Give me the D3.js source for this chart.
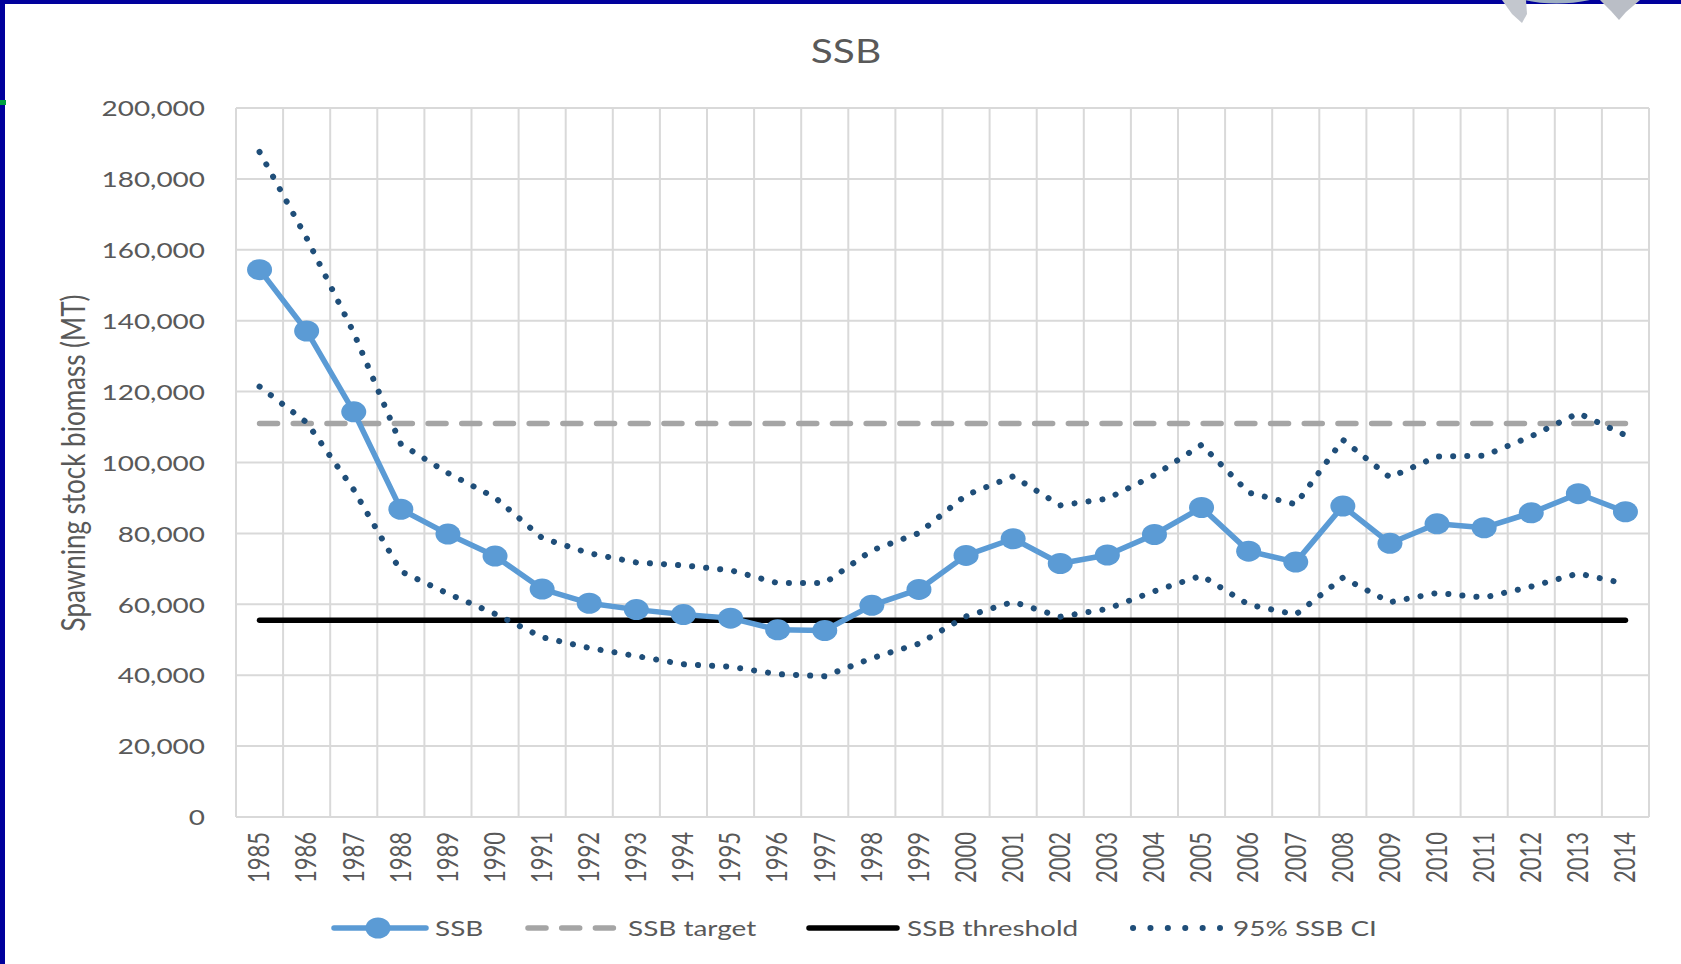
<!DOCTYPE html>
<html>
<head>
<meta charset="utf-8">
<script src="https://cdn.jsdelivr.net/npm/d3@7"></script>
<style>
  body { margin: 0; background: #fff; }
  svg text { font-family: Lato, "Open Sans", sans-serif; fill: #595959; }
</style>
</head>
<body>
<svg id="chart" width="1681" height="964"></svg>
<script>
// values (metric tons)
var years = ["1985","1986","1987","1988","1989","1990","1991","1992","1993","1994",
             "1995","1996","1997","1998","1999","2000","2001","2002","2003","2004",
             "2005","2006","2007","2008","2009","2010","2011","2012","2013","2014"]
var ssb = [154400,137100,114300,86800,79800,73600,64300,60300,58500,57100,
           56100,52800,52600,59700,64200,73800,78500,71500,73900,79700,
           87300,75000,71900,87700,77200,82700,81600,85800,91200,86100]
var ciUpper = [187600,163300,136600,105200,97000,90100,78700,74400,71800,71000,
               69600,66000,66000,75200,80100,90800,96100,87900,89800,96400,
               105000,91500,88200,106400,95800,101700,101900,107400,113900,107700]
var ciLower = [121400,111300,92300,69300,63000,57300,50700,47700,45400,43100,
               42400,40300,39700,44800,48900,56600,60700,56500,58700,63700,
               68100,59900,57100,67500,60600,63200,61900,65000,68700,65800]
var ssbTarget = 111000
var ssbThreshold = 55500
var yTicks = [0,20000,40000,60000,80000,100000,120000,140000,160000,180000,200000]
var legendLabels = ["SSB","SSB target","SSB threshold","95% SSB CI"]

var svg = d3.select("#chart")

// slide frame (blue band + bits of the logo)
svg.append("rect").attr("x",0).attr("y",0).attr("width",1681).attr("height",4).attr("fill","#00009c")
svg.append("rect").attr("x",0).attr("y",0).attr("width",5).attr("height",964).attr("fill","#00009c")
svg.append("rect").attr("x",0).attr("y",100).attr("width",6).attr("height",5).attr("fill","#00a040")
svg.append("path").attr("d","M1502,0 L1526,0 L1527,14 L1522,23 L1512,14 Z").attr("fill","#c3c7ce")
svg.append("path").attr("d","M1524,0 Q1556,7 1590,0 Z").attr("fill","#9fb0c2")
svg.append("path").attr("d","M1600,0 L1640,0 L1626,12 L1619,20 L1611,11 Z").attr("fill","#babec6")

var margin = { top: 108, right: 32, bottom: 147, left: 236 },
    width = 1681 - margin.left - margin.right,
    height = 964 - margin.top - margin.bottom
var sx = 1.27   // text in the source picture is stretched sideways

var x = d3.scaleBand().domain(years).range([0, width])
var y = d3.scaleLinear().domain([0, 200000]).range([height, 0])
function cx(d) { return x(d) + x.bandwidth() / 2 }

var g = svg.append("g").attr("transform", "translate(" + margin.left + "," + margin.top + ")")

// grid
g.append("g").selectAll("line").data(yTicks).join("line")
  .attr("x1", 0).attr("x2", width)
  .attr("y1", function (d) { return y(d) }).attr("y2", function (d) { return y(d) })
  .attr("stroke", "#d9d9d9").attr("stroke-width", 2)

var edges = years.map(function (d) { return x(d) }).concat([width])
g.append("g").selectAll("line").data(edges).join("line")
  .attr("x1", function (d) { return d }).attr("x2", function (d) { return d })
  .attr("y1", 0).attr("y2", height)
  .attr("stroke", "#d9d9d9").attr("stroke-width", 2)

// axes
var yAxis = g.append("g")
  .call(d3.axisLeft(y).tickValues(yTicks).tickSize(0).tickPadding(0).tickFormat(d3.format(",")))
  .attr("font-size", null).attr("font-family", null)
yAxis.select(".domain").remove()
yAxis.selectAll("text")
  .attr("x", 0).attr("dy", "0.35em")
  .attr("transform", "translate(-31,0) scale(" + sx + ",1)")
  .style("font-size", "22px")

var xAxis = g.append("g")
  .attr("transform", "translate(0," + height + ")")
  .call(d3.axisBottom(x).tickSize(0))
  .attr("font-size", null).attr("font-family", null)
xAxis.select(".domain").remove()
xAxis.selectAll("text")
  .attr("x", 0).attr("y", 0).attr("dy", "0.35em")
  .attr("text-anchor", "end")
  .attr("transform", "translate(0,15) scale(" + sx + ",1) rotate(-90)")
  .style("font-size", "22px")

// series
function seriesLine(vals) {
  return d3.line()
    .x(function (d, i) { return cx(years[i]) })
    .y(function (d) { return y(d) })(vals)
}
var flat = function (v) { return years.map(function () { return v }) }

g.append("path").attr("d", seriesLine(flat(ssbTarget)))
  .attr("fill", "none").attr("stroke", "#a5a5a5").attr("stroke-width", 5.5)
  .attr("stroke-linecap", "round").attr("stroke-dasharray", "18,15.7")

g.append("path").attr("d", seriesLine(flat(ssbThreshold)))
  .attr("fill", "none").attr("stroke", "#000").attr("stroke-width", 5.5)
  .attr("stroke-linecap", "round")

;[ciUpper, ciLower].forEach(function (vals) {
  g.append("path").attr("d", seriesLine(vals))
    .attr("fill", "none").attr("stroke", "#1f4e79").attr("stroke-width", 6)
    .attr("stroke-linecap", "round").attr("stroke-dasharray", "0.1,14")
})

g.append("path").attr("d", seriesLine(ssb))
  .attr("fill", "none").attr("stroke", "#5b9bd5").attr("stroke-width", 5.5)
  .attr("stroke-linejoin", "round")

g.append("g").selectAll("ellipse").data(ssb).join("ellipse")
  .attr("cx", function (d, i) { return cx(years[i]) })
  .attr("cy", function (d) { return y(d) })
  .attr("rx", 12.5).attr("ry", 10.5)
  .attr("fill", "#5b9bd5")

// title
svg.append("text")
  .attr("transform", "translate(846,63) scale(" + sx + ",1)")
  .attr("text-anchor", "middle")
  .style("font-size", "32px")
  .text("SSB")

svg.append("text")
  .attr("transform", "translate(73,463) scale(" + sx + ",1) rotate(-90)")
  .attr("text-anchor", "middle").attr("dy", "0.35em")
  .style("font-size", "26px")
  .text("Spawning stock biomass (MT)")

// legend
var ly = 928
var legend = svg.append("g")
legend.append("line").attr("x1", 334).attr("x2", 426).attr("y1", ly).attr("y2", ly)
  .attr("stroke", "#5b9bd5").attr("stroke-width", 5.5).attr("stroke-linecap", "round")
legend.append("ellipse").attr("cx", 378).attr("cy", ly).attr("rx", 12.5).attr("ry", 10.5).attr("fill", "#5b9bd5")
legend.append("line").attr("x1", 528).attr("x2", 616).attr("y1", ly).attr("y2", ly)
  .attr("stroke", "#a5a5a5").attr("stroke-width", 5.5).attr("stroke-linecap", "round")
  .attr("stroke-dasharray", "18,15.7")
legend.append("line").attr("x1", 809).attr("x2", 897).attr("y1", ly).attr("y2", ly)
  .attr("stroke", "#000").attr("stroke-width", 5.5).attr("stroke-linecap", "round")
legend.append("line").attr("x1", 1133).attr("x2", 1220).attr("y1", ly).attr("y2", ly)
  .attr("stroke", "#1f4e79").attr("stroke-width", 6).attr("stroke-linecap", "round")
  .attr("stroke-dasharray", "0.1,17.3")

var legendX = [435, 628, 907, 1233]
legend.selectAll("text").data(legendLabels).join("text")
  .attr("transform", function (d, i) { return "translate(" + legendX[i] + "," + ly + ") scale(" + sx + ",1)" })
  .attr("dy", "0.35em")
  .style("font-size", "22px")
  .text(function (d) { return d })
</script>
</body>
</html>
